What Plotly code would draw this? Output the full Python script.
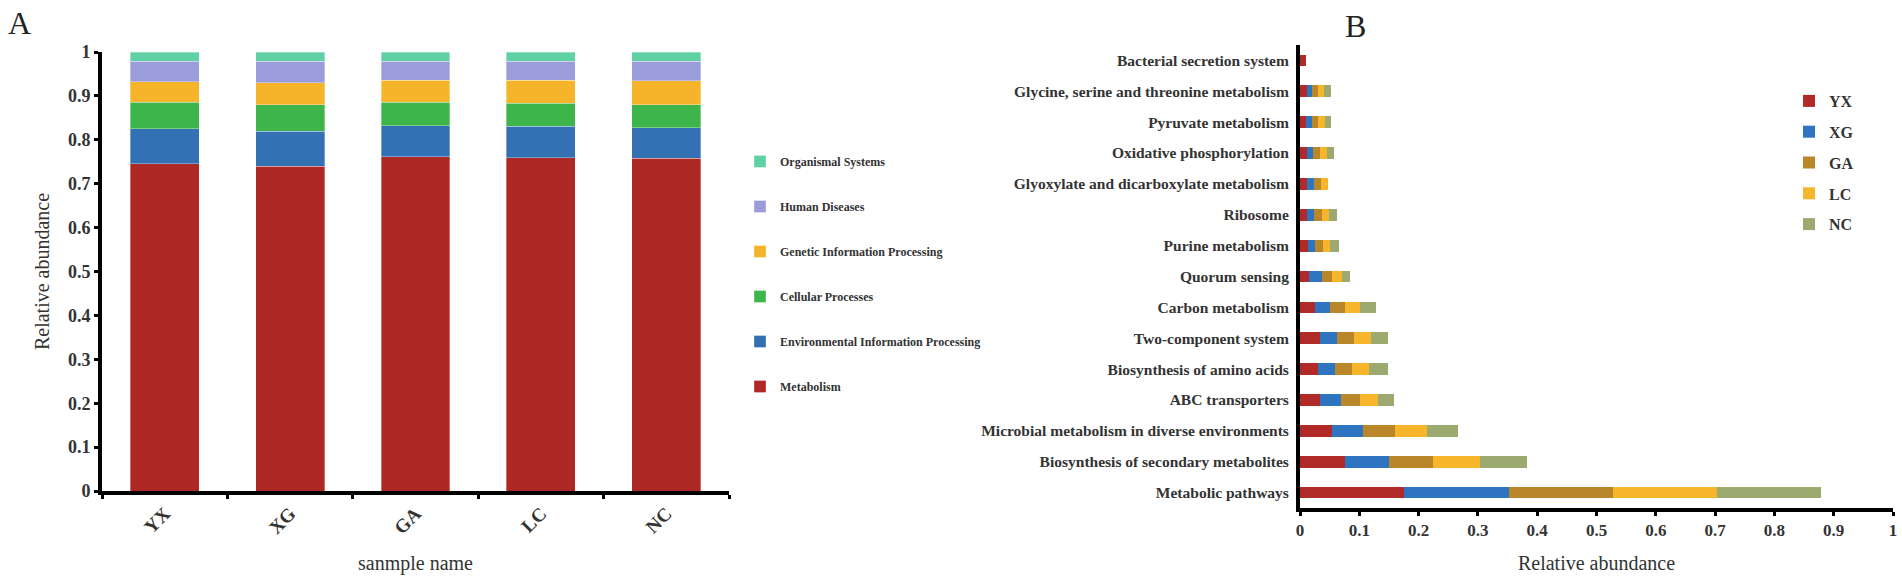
import plotly.graph_objects as go

W, H = 1902, 577

# ---------------- Panel A data ----------------
samples = ["YX", "XG", "GA", "LC", "NC"]
categories_a = ["Metabolism", "Environmental Information Processing", "Cellular Processes",
                "Genetic Information Processing", "Human Diseases", "Organismal Systems"]
metabolism = [0.746, 0.740, 0.761, 0.759, 0.758]
environmental = [0.079, 0.080, 0.071, 0.072, 0.069]
cellular = [0.060, 0.060, 0.053, 0.052, 0.053]
genetic = [0.047, 0.050, 0.051, 0.053, 0.054]
human = [0.047, 0.049, 0.043, 0.043, 0.045]
organismal = [0.021, 0.021, 0.021, 0.021, 0.021]
colors_a = ["#AE2925", "#3471B4", "#3DB54A", "#F6B42A", "#9B9CDA", "#5FD1A5"]

# ---------------- Panel B data ----------------
pathways = ["Bacterial secretion system", "Glycine, serine and threonine metabolism",
            "Pyruvate metabolism", "Oxidative phosphorylation",
            "Glyoxylate and dicarboxylate metabolism", "Ribosome", "Purine metabolism",
            "Quorum sensing", "Carbon metabolism", "Two-component system",
            "Biosynthesis of amino acids", "ABC transporters",
            "Microbial metabolism in diverse environments",
            "Biosynthesis of secondary metabolites", "Metabolic pathways"]
yx = [0.010, 0.011, 0.010, 0.011, 0.012, 0.012, 0.013, 0.016, 0.025, 0.033, 0.030, 0.033, 0.054, 0.076, 0.176]
xg = [0.000, 0.010, 0.011, 0.011, 0.012, 0.012, 0.013, 0.021, 0.026, 0.029, 0.029, 0.036, 0.053, 0.074, 0.176]
ga = [0.000, 0.010, 0.010, 0.012, 0.012, 0.013, 0.012, 0.017, 0.025, 0.029, 0.029, 0.033, 0.053, 0.075, 0.175]
lc = [0.000, 0.010, 0.011, 0.011, 0.011, 0.012, 0.013, 0.016, 0.026, 0.029, 0.029, 0.030, 0.054, 0.078, 0.176]
nc = [0.000, 0.012, 0.010, 0.012, 0.000, 0.013, 0.014, 0.015, 0.026, 0.028, 0.031, 0.027, 0.053, 0.079, 0.175]
colors_b = ["#B02A27", "#2E74C1", "#B9862A", "#F6B52B", "#9CAA70"]

ticks_a = [0, 0.1, 0.2, 0.3, 0.4, 0.5, 0.6, 0.7, 0.8, 0.9, 1]
ticklabels_a = ["0", "0.1", "0.2", "0.3", "0.4", "0.5", "0.6", "0.7", "0.8", "0.9", "1"]

SERIF = "Liberation Serif"

fig = go.Figure()

series_a = [metabolism, environmental, cellular, genetic, human, organismal]
n_a = len(categories_a)
for i, (name, vals, col) in enumerate(zip(categories_a, series_a, colors_a)):
    fig.add_trace(go.Bar(
        x=samples, y=vals, name=name,
        marker=dict(color=col, line=dict(width=0.6, color="rgba(255,255,255,0.55)")),
        width=0.55, xaxis="x", yaxis="y", legend="legend", legendgroup=name,
        legendrank=1000 + (n_a - i),
    ))

series_b = [yx, xg, ga, lc, nc]
for i, (name, vals, col) in enumerate(zip(samples, series_b, colors_b)):
    fig.add_trace(go.Bar(
        y=pathways, x=vals, name=name, orientation="h",
        marker=dict(color=col, line=dict(width=0)),
        width=0.38, xaxis="x2", yaxis="y2", legend="legend2", legendgroup="b_" + name,
        legendrank=1000 + i,
    ))

def px_x(p):
    return p / W

def px_y(p):
    return 1 - p / H

fig.update_layout(
    width=W, height=H,
    margin=dict(l=0, r=0, t=0, b=0, pad=0, autoexpand=False),
    paper_bgcolor="white", plot_bgcolor="white",
    barmode="stack",
    font=dict(family=SERIF, color="#222222"),
    xaxis=dict(
        domain=[px_x(102), px_x(729)], anchor="y", automargin=False,
        type="category", range=[-0.5, 4.5],
        showline=True, linecolor="black", linewidth=4,
        ticks="outside", tickson="boundaries", ticklen=4, tickwidth=3, tickcolor="black",
        tickangle=-45, tickfont=dict(family=SERIF, size=19, weight="bold", color="#333333"),
        showgrid=False, zeroline=False,
        title=dict(text="sanmple name", font=dict(family=SERIF, size=20, color="#333333"), standoff=20),
    ),
    yaxis=dict(
        domain=[px_y(491), px_y(52)], anchor="x", automargin=False,
        range=[0, 1], tickvals=ticks_a, ticktext=ticklabels_a,
        showline=True, linecolor="black", linewidth=4,
        ticks="outside", ticklen=4, tickwidth=3, tickcolor="black",
        tickfont=dict(family=SERIF, size=18, weight="bold", color="#333333"),
        showgrid=False, zeroline=False,
        title=dict(text="Relative abundance", font=dict(family=SERIF, size=20, color="#333333"), standoff=14),
    ),
    xaxis2=dict(
        domain=[px_x(1300), px_x(1893)], anchor="y2", automargin=False,
        range=[0, 1], tickvals=ticks_a, ticktext=ticklabels_a,
        showline=True, linecolor="black", linewidth=4,
        ticks="outside", ticklen=4, tickwidth=3, tickcolor="black",
        tickfont=dict(family=SERIF, size=17, weight="bold", color="#333333"),
        showgrid=False, zeroline=False,
        title=dict(text="Relative abundance", font=dict(family=SERIF, size=20, color="#333333"), standoff=18),
    ),
    yaxis2=dict(
        domain=[px_y(508), px_y(45)], anchor="x2", automargin=False,
        type="category", autorange="reversed",
        showline=True, linecolor="black", linewidth=4,
        ticks="", ticklabelstandoff=4,
        tickfont=dict(family=SERIF, size=15.5, weight="bold", color="#333333"),
        showgrid=False, zeroline=False,
    ),
    legend=dict(
        x=px_x(740), y=px_y(147), xanchor="left", yanchor="top",
        orientation="v", traceorder="grouped", tracegroupgap=26,
        font=dict(family=SERIF, size=12, weight="bold", color="#333333"),
        bgcolor="rgba(0,0,0,0)",
    ),
    legend2=dict(
        x=px_x(1789), y=px_y(84), xanchor="left", yanchor="top",
        orientation="v", traceorder="grouped", tracegroupgap=7,
        font=dict(family=SERIF, size=16, weight="bold", color="#333333"),
        bgcolor="rgba(0,0,0,0)",
    ),
    showlegend=True,
    annotations=[
        dict(text="A", x=px_x(6), y=px_y(23), xref="paper", yref="paper",
             xanchor="left", yanchor="middle", showarrow=False,
             font=dict(family=SERIF, size=32, color="#222222")),
        dict(text="B", x=px_x(1343), y=px_y(26), xref="paper", yref="paper",
             xanchor="left", yanchor="middle", showarrow=False,
             font=dict(family=SERIF, size=32, color="#222222")),
    ],
)

fig.write_html("out.html", config={"displayModeBar": False},
               post_script="document.body.style.margin='0';")
